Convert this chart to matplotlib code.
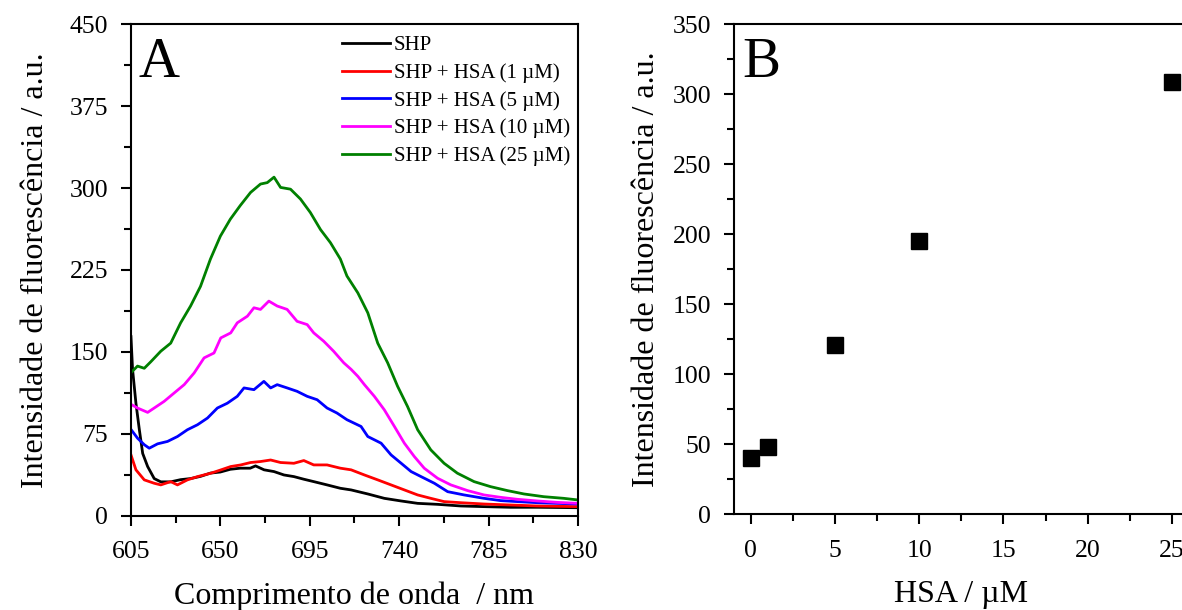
import numpy as np
import matplotlib.pyplot as plt
from matplotlib.ticker import MultipleLocator

plt.rcParams["font.family"] = ["Liberation Serif", "DejaVu Serif"]

# ── Dados ────────────────────────────────────────────────────────────────────
wl_shp = [605, 605.8, 607.5, 609.2, 610.9, 613.4, 616.7, 620, 625, 630, 635, 640,
          645, 650, 655, 660, 665, 667.7, 672, 677, 682, 687, 692, 697, 703.7,
          710.4, 715.8, 724.2, 732.5, 740.9, 749.3, 759.3, 771, 782.7, 796.1,
          809.5, 830]
int_shp = [164, 134, 103, 79, 57, 45, 34, 31, 31, 33, 34, 36, 39, 40, 42.5, 43.5,
           43.5, 45.6, 42, 40.4, 37.3, 35.8, 33.4, 31.2, 28.2, 25.1, 23.6, 19.9,
           15.9, 13.5, 11.3, 10.4, 8.9, 8.3, 7.7, 7.7, 7.3]

wl_1 = [605, 607.5, 611.7, 616.7, 620, 625, 628.4, 633.4, 638.5, 645.2, 650.2,
        655.2, 660.3, 665.2, 670.2, 675.3, 680.3, 687, 692, 697, 703.7, 710.4,
        715.8, 722.5, 729.2, 735.9, 742.6, 749.3, 755.9, 762.6, 771, 782.7,
        796.1, 809.5, 830]
int_1 = [55.7, 42, 32.8, 29.7, 28.2, 31.2, 28.2, 32.8, 35.8, 38.9, 41.9, 45,
         46.5, 48.7, 49.6, 51, 48.7, 48, 50.5, 46.5, 46.5, 43.5, 42, 37.3, 32.8,
         28.2, 23.6, 19, 15.9, 12.9, 11.9, 10.7, 9.8, 8.9, 8.3]

wl_5 = [605, 608.3, 611.7, 614.2, 618.4, 623.4, 628.4, 633.4, 638.5, 643.5,
        648.5, 653.5, 658.5, 661.9, 666.9, 671.9, 675.3, 678.6, 683.6, 688.6,
        693.7, 698.7, 703.7, 708.7, 713.7, 720.8, 724.2, 730.9, 735.9, 741,
        746, 751, 757.7, 764.4, 772.7, 782.7, 791.1, 799.5, 809.5, 819.5, 830]
int_5 = [79, 71, 65, 61.8, 65.8, 68, 72.5, 78.7, 83.3, 89.4, 98.6, 103, 109.3,
         117, 115.4, 123, 117, 120, 117, 113.9, 109.3, 106.2, 98.6, 94, 87.9,
         81.7, 72.5, 66.4, 55.7, 48, 40.4, 35.8, 29.7, 22, 19, 15.9, 13.8, 12.9,
         11.9, 11.3, 10.7]

wl_10 = [605, 608.3, 613.4, 616.7, 621.7, 626.7, 631.8, 636.8, 641.8, 646.8,
         650.2, 655.2, 658.5, 663.6, 666.9, 670.2, 674.4, 678.6, 683.6, 688.6,
         693.7, 697, 702, 707, 712.1, 715.8, 719.2, 722.5, 727.5, 732.5, 737.6,
         742.6, 747.6, 752.6, 759.3, 766, 774.4, 782.7, 791.1, 799.5, 809.5,
         819.5, 830]
int_10 = [102, 98.6, 94.6, 98.6, 104.7, 112.3, 120, 130.7, 144.5, 149, 162.8,
          167.4, 176.6, 182.7, 190.4, 188.9, 196.5, 192, 188.9, 178, 175, 167.4,
          159.8, 150.6, 140, 134, 127.6, 120, 109.3, 97, 81.7, 66.4, 54.2, 43.5,
          34.3, 28.2, 23, 19, 16.8, 15, 13.5, 12.2, 11.3]

wl_25 = [605, 608.3, 611.7, 615, 620, 625, 630, 635, 640, 645, 650, 655, 660,
         665.2, 670.2, 673.6, 677, 680.3, 685.3, 690.3, 695.3, 700.4, 705.4,
         710.4, 713.7, 719.2, 724.2, 729.2, 734.2, 739.2, 744.2, 749.3, 755.9,
         762.6, 769.3, 777.7, 786, 794.4, 802.8, 812.8, 822.8, 830]
int_25 = [131, 137, 135, 141, 150.6, 158, 176.6, 192, 210, 235, 256, 271.5,
          284, 296, 303.7, 305, 310, 300.6, 299, 290, 277.6, 262, 250, 235,
          219.5, 204, 185.8, 158, 140, 118.5, 100, 78.7, 60.3, 48, 38.9, 31.2,
          26.6, 23, 19.9, 17.4, 15.9, 14.4]

series = [
    (wl_shp, int_shp, "black", "SHP"),
    (wl_1, int_1, "red", "SHP + HSA (1 µM)"),
    (wl_5, int_5, "blue", "SHP + HSA (5 µM)"),
    (wl_10, int_10, "magenta", "SHP + HSA (10 µM)"),
    (wl_25, int_25, "green", "SHP + HSA (25 µM)"),
]

wl_ticks = [605, 650, 695, 740, 785, 830]

hsa_conc = [0, 1, 5, 10, 25]
hsa_int = [40, 48, 121, 195, 309]

# ── Figura ───────────────────────────────────────────────────────────────────
fig = plt.figure(figsize=(11.82, 6.10), dpi=100)
axA = fig.add_axes([0.1108, 0.1546, 0.3782, 0.8056])
axB = fig.add_axes([0.621, 0.1570, 0.3846, 0.8032])

for wl, val, cor, rot in series:
    axA.plot(wl, val, color=cor, lw=2.0, label=rot)

axA.set_xlim(605, 830)
axA.set_ylim(0, 450)
axA.set_xticks(wl_ticks)
axA.set_xticks(np.array(wl_ticks[:-1]) + 22.5, minor=True)
axA.yaxis.set_major_locator(MultipleLocator(75))
axA.yaxis.set_minor_locator(MultipleLocator(37.5))
axA.set_xlabel("Comprimento de onda  / nm", fontsize=23, labelpad=13)
axA.set_ylabel("Intensidade de fluorescência / a.u.", fontsize=23, labelpad=14)
axA.text(0.016, 0.975, "A", transform=axA.transAxes, fontsize=41,
         ha="left", va="top")
axA.legend(loc="upper left", bbox_to_anchor=(0.446, 1.0), frameon=False,
           fontsize=15, handlelength=2.3, handletextpad=0.2,
           labelspacing=0.38, borderaxespad=0.15)

axB.plot(hsa_conc, hsa_int, "s", color="black", ms=11.5)
axB.set_xlim(-1, 26)
axB.set_ylim(0, 350)
axB.xaxis.set_major_locator(MultipleLocator(5))
axB.xaxis.set_minor_locator(MultipleLocator(2.5))
axB.yaxis.set_major_locator(MultipleLocator(50))
axB.yaxis.set_minor_locator(MultipleLocator(25))
axB.set_xlabel("HSA / µM", fontsize=23, labelpad=13)
axB.set_ylabel("Intensidade de fluorescência / a.u.", fontsize=23, labelpad=8)
axB.text(0.018, 0.975, "B", transform=axB.transAxes, fontsize=41,
         ha="left", va="top")

for ax in (axA, axB):
    for sp in ax.spines.values():
        sp.set_linewidth(1.5)
    ax.tick_params(which="both", direction="out", width=1.5, labelsize=18.5,
                   top=False, right=False)
    ax.tick_params(which="major", length=7.5)
    ax.tick_params(which="minor", length=5)
    ax.tick_params(axis="x", which="major", pad=11)
    ax.tick_params(axis="y", which="major", pad=9)

fig.savefig("out.png", dpi=100)
